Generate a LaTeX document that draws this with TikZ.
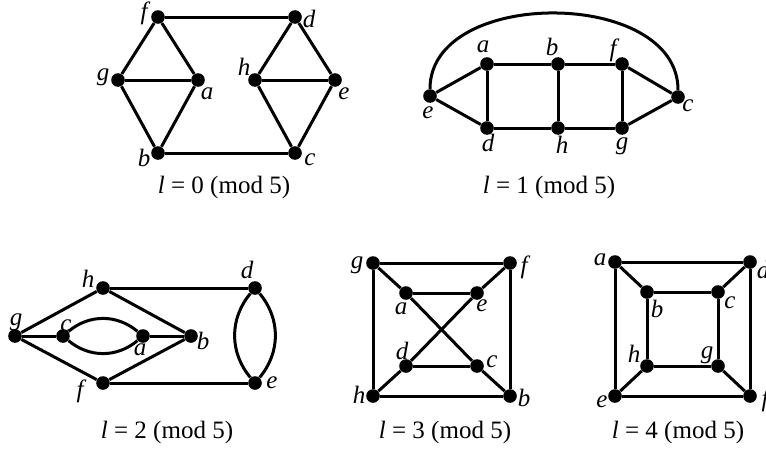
\documentclass[tikz,border=0pt]{standalone}
\usepackage{fontspec}
\setmainfont{Liberation Serif}
\usepackage{tikz}
\usetikzlibrary{positioning}

\begin{document}
\begin{tikzpicture}[
  x=0.5pt, y=-0.5pt,
  vtx/.style={circle, fill=black, inner sep=0pt, minimum size=6.8pt},
  lbl/.style={font=\fontsize{12.5}{15}\selectfont\itshape, inner sep=0pt},
  caption/.style={font=\fontsize{12.5}{15}\selectfont},
  line/.style={draw, line width=1.5pt}
]
  \useasboundingbox (0,0) rectangle (766,455);

  % l = 0
  \node [vtx] (f0) at (158,17) {};
  \node [vtx] (d0) at (295,17) {};
  \node [vtx] (g0) at (118,80) {};
  \node [vtx] (a0) at (198,80) {};
  \node [vtx] (h0) at (255,80) {};
  \node [vtx] (e0) at (335,80) {};
  \node [vtx] (b0) at (158,153) {};
  \node [vtx] (c0) at (295,153) {};
  \node [lbl] (f0-l) at ([shift={(-14,-4)}]f0) {f};
  \node [lbl] (d0-l) at ([shift={(14,2)}]d0) {d};
  \node [lbl] (g0-l) at ([shift={(-15,-3)}]g0) {g};
  \node [lbl] (a0-l) at ([shift={(9,14)}]a0) {a};
  \node [lbl] (h0-l) at ([shift={(-11,-13)}]h0) {h};
  \node [lbl] (e0-l) at ([shift={(9,14)}]e0) {e};
  \node [lbl] (b0-l) at ([shift={(-14,5)}]b0) {b};
  \node [lbl] (c0-l) at ([shift={(15,7)}]c0) {c};
  \node [caption] (cap0) at (224,187) {\textit{l} = 0 (mod 5)};

  \draw [line] (f0) -- (d0);
  \draw [line] (b0) -- (c0);
  \draw [line] (f0) -- (g0);
  \draw [line] (f0) -- (a0);
  \draw [line] (g0) -- (a0);
  \draw [line] (g0) -- (b0);
  \draw [line] (a0) -- (b0);
  \draw [line] (d0) -- (h0);
  \draw [line] (d0) -- (e0);
  \draw [line] (h0) -- (e0);
  \draw [line] (h0) -- (c0);
  \draw [line] (e0) -- (c0);

  % l = 1
  \node [vtx] (a1) at (487,64) {};
  \node [vtx] (b1) at (558,64) {};
  \node [vtx] (f1) at (622,64) {};
  \node [vtx] (e1) at (430,96) {};
  \node [vtx] (c1) at (678,97) {};
  \node [vtx] (d1) at (487,128) {};
  \node [vtx] (h1) at (558,128) {};
  \node [vtx] (g1) at (622,128) {};
  \node [lbl] (a1-l) at ([shift={(-4,-17)}]a1) {a};
  \node [lbl] (b1-l) at ([shift={(-6,-17)}]b1) {b};
  \node [lbl] (f1-l) at ([shift={(-9,-14)}]f1) {f};
  \node [lbl] (e1-l) at ([shift={(-2,17)}]e1) {e};
  \node [lbl] (c1-l) at ([shift={(10,9)}]c1) {c};
  \node [lbl] (d1-l) at ([shift={(1,15)}]d1) {d};
  \node [lbl] (h1-l) at ([shift={(4,17)}]h1) {h};
  \node [lbl] (g1-l) at ([shift={(0,18)}]g1) {g};
  \node [caption] (cap1) at (549,187) {\textit{l} = 1 (mod 5)};

  \draw [line] (e1) .. controls +(0,-109) and +(0,-109) .. (c1);
  \draw [line] (a1) -- (b1);
  \draw [line] (b1) -- (f1);
  \draw [line] (d1) -- (h1);
  \draw [line] (h1) -- (g1);
  \draw [line] (a1) -- (d1);
  \draw [line] (b1) -- (h1);
  \draw [line] (f1) -- (g1);
  \draw [line] (e1) -- (a1);
  \draw [line] (e1) -- (d1);
  \draw [line] (f1) -- (c1);
  \draw [line] (g1) -- (c1);

  % l = 2
  \node [vtx] (h2) at (103,288) {};
  \node [vtx] (d2) at (255,288) {};
  \node [vtx] (g2) at (15,336) {};
  \node [vtx] (c2) at (63,336) {};
  \node [vtx] (a2) at (143,336) {};
  \node [vtx] (b2) at (191,336) {};
  \node [vtx] (f2) at (103,383) {};
  \node [vtx] (e2) at (255,383) {};
  \node [lbl] (h2-l) at ([shift={(-15,-9)}]h2) {h};
  \node [lbl] (d2-l) at ([shift={(-8,-18)}]d2) {d};
  \node [lbl] (g2-l) at ([shift={(1,-14)}]g2) {g};
  \node [lbl] (c2-l) at ([shift={(3,-10)}]c2) {c};
  \node [lbl] (a2-l) at ([shift={(-3,14)}]a2) {a};
  \node [lbl] (b2-l) at ([shift={(12,5)}]b2) {b};
  \node [lbl] (f2-l) at ([shift={(-23,8)}]f2) {f};
  \node [lbl] (e2-l) at ([shift={(17,0)}]e2) {e};
  \node [caption] (cap2) at (167,432) {\textit{l} = 2 (mod 5)};

  \draw [line] (h2) -- (d2);
  \draw [line] (f2) -- (e2);
  \draw [line] (g2) -- (h2);
  \draw [line] (g2) -- (f2);
  \draw [line] (g2) -- (c2);
  \draw [line] (a2) -- (b2);
  \draw [line] (h2) -- (b2);
  \draw [line] (f2) -- (b2);
  \draw [line] (c2) to [bend left=40] (a2);
  \draw [line] (c2) to [bend right=40] (a2);
  \draw [line] (d2) to [bend left=40] (e2);
  \draw [line] (d2) to [bend right=40] (e2);

  % l = 3
  \node [vtx] (g3) at (373,263) {};
  \node [vtx] (f3) at (510,263) {};
  \node [vtx] (a3) at (406,293) {};
  \node [vtx] (e3) at (477,293) {};
  \node [vtx] (d3) at (406,366) {};
  \node [vtx] (c3) at (477,366) {};
  \node [vtx] (h3) at (373,396) {};
  \node [vtx] (b3) at (510,396) {};
  \node [lbl] (g3-l) at ([shift={(-16,2)}]g3) {g};
  \node [lbl] (f3-l) at ([shift={(14,4)}]f3) {f};
  \node [lbl] (a3-l) at ([shift={(-5,16)}]a3) {a};
  \node [lbl] (e3-l) at ([shift={(5,13)}]e3) {e};
  \node [lbl] (d3-l) at ([shift={(-4,-15)}]d3) {d};
  \node [lbl] (c3-l) at ([shift={(15,-4)}]c3) {c};
  \node [lbl] (h3-l) at ([shift={(-14,-1)}]h3) {h};
  \node [lbl] (b3-l) at ([shift={(14,2)}]b3) {b};
  \node [caption] (cap3) at (445,432) {\textit{l} = 3 (mod 5)};

  \draw [line] (g3) -- (f3);
  \draw [line] (h3) -- (b3);
  \draw [line] (g3) -- (h3);
  \draw [line] (f3) -- (b3);
  \draw [line] (a3) -- (e3);
  \draw [line] (d3) -- (c3);
  \draw [line] (g3) -- (a3);
  \draw [line] (a3) -- (c3);
  \draw [line] (c3) -- (b3);
  \draw [line] (f3) -- (e3);
  \draw [line] (e3) -- (d3);
  \draw [line] (d3) -- (h3);

  % l = 4
  \node [vtx] (a4) at (615,262) {};
  \node [vtx] (d4) at (750,262) {};
  \node [vtx] (b4) at (647,292) {};
  \node [vtx] (c4) at (718,292) {};
  \node [vtx] (h4) at (647,366) {};
  \node [vtx] (g4) at (718,366) {};
  \node [vtx] (e4) at (615,396) {};
  \node [vtx] (f4) at (750,396) {};
  \node [lbl] (a4-l) at ([shift={(-15,-2)}]a4) {a};
  \node [lbl] (d4-l) at ([shift={(13,8)}]d4) {d};
  \node [lbl] (b4-l) at ([shift={(10,17)}]b4) {b};
  \node [lbl] (c4-l) at ([shift={(12,11)}]c4) {c};
  \node [lbl] (h4-l) at ([shift={(-13,-12)}]h4) {h};
  \node [lbl] (g4-l) at ([shift={(-11,-11)}]g4) {g};
  \node [lbl] (e4-l) at ([shift={(-13,6)}]e4) {e};
  \node [lbl] (f4-l) at ([shift={(15,4)}]f4) {f};
  \node [caption] (cap4) at (678,432) {\textit{l} = 4 (mod 5)};

  \draw [line] (a4) -- (d4);
  \draw [line] (e4) -- (f4);
  \draw [line] (a4) -- (e4);
  \draw [line] (d4) -- (f4);
  \draw [line] (b4) -- (c4);
  \draw [line] (h4) -- (g4);
  \draw [line] (b4) -- (h4);
  \draw [line] (c4) -- (g4);
  \draw [line] (a4) -- (b4);
  \draw [line] (d4) -- (c4);
  \draw [line] (e4) -- (h4);
  \draw [line] (f4) -- (g4);
\end{tikzpicture}
\end{document}
